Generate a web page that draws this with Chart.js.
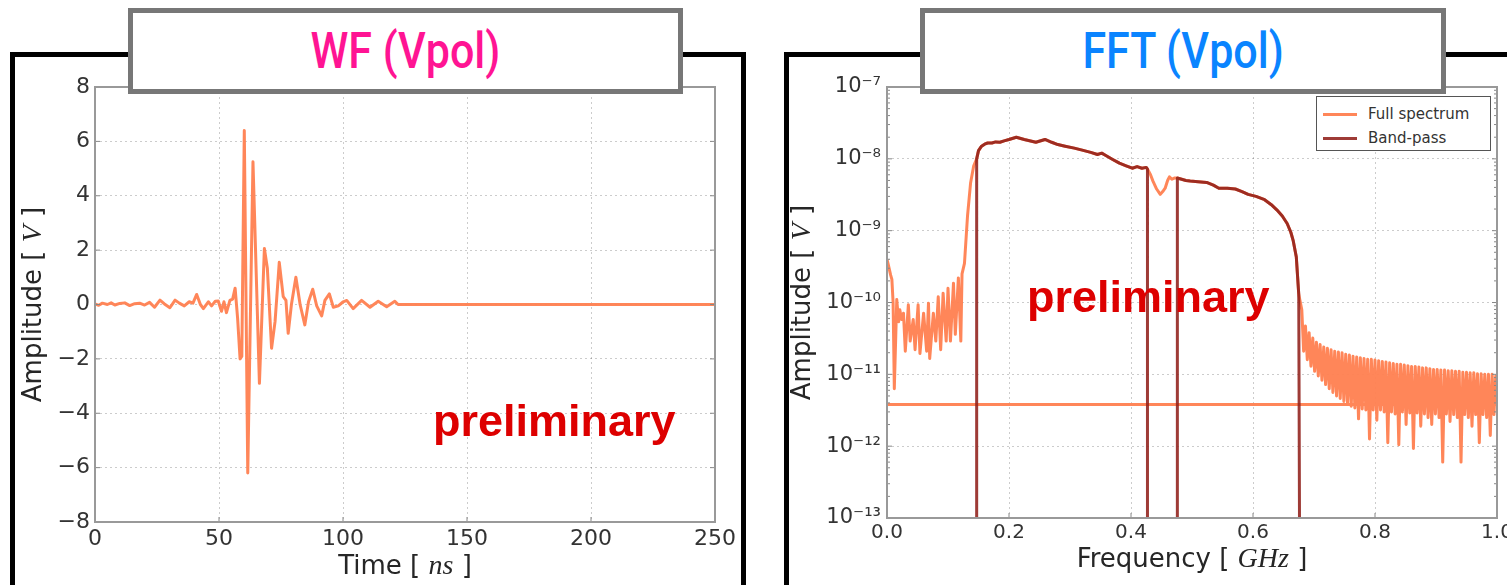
<!DOCTYPE html>
<html>
<head>
<meta charset="utf-8">
<script src="https://cdn.jsdelivr.net/npm/chart.js@4.4.1/dist/chart.umd.min.js"></script>
<style>
  body { margin: 0; width: 1507px; height: 585px; background: #fff; position: relative; overflow: hidden; }
  .frame { position: absolute; border: 5px solid #000; box-sizing: border-box; }
  .tbox { position: absolute; background: #fff; border: 5px solid #777; box-sizing: border-box;
          display: flex; align-items: center; justify-content: center;
          font-family: "Roboto", sans-serif; font-weight: 500; font-size: 50px; }
  .tbox span { display: inline-block; transform: scaleX(0.86); }
  .prelim { position: absolute; color: #dd0000; font: bold 45px "Liberation Sans", Arial, sans-serif; line-height: 1; }
  canvas { position: absolute; }
  #legend { position: absolute; left: 1316px; top: 96px; width: 175px; height: 55px; box-sizing: border-box;
            border: 1px solid #555; background: #fff; font: 15px "DejaVu Sans", sans-serif; color: #333; padding-top: 5px; }
  #legend .li { height: 24px; display: flex; align-items: center; }
  #legend .sw { display: inline-block; width: 34px; height: 3px; margin: 0 11px 0 6px; }
</style>
</head>
<body>
<div class="frame" style="left:10px;top:52px;width:736px;height:560px"></div>
<div class="frame" style="left:784px;top:52px;width:760px;height:560px"></div>
<canvas id="wf" width="726" height="528" style="left:15px;top:57px"></canvas>
<canvas id="fft" width="718" height="528" style="left:789px;top:57px"></canvas>
<div class="tbox" style="left:128px;top:8px;width:555px;height:86px;color:#ff1493"><span>WF (Vpol)</span></div>
<div class="tbox" style="left:920px;top:8px;width:526px;height:86px;color:#0a84ff"><span>FFT (Vpol)</span></div>
<div class="prelim" style="left:433px;top:398px">preliminary</div>
<div class="prelim" style="left:1027px;top:274px">preliminary</div>
<div id="legend"></div>
<script>
// waveform, time in ns, amplitude in V
const wfTime = [0, 1.5, 3, 5, 6.5, 8, 10, 12, 14, 16, 18, 20, 22, 24, 26.2, 28, 30.2, 32.3, 34, 36,
  38, 39.5, 41, 42.5, 43.7, 45.7, 47, 48.5, 49.7, 51, 52, 53, 54.4, 55.5, 56.5, 57.5, 58.5, 59.2, 60.2, 61.6,
  63.7, 66.3, 68.3, 69.5, 71.2, 72.6, 74.3, 75.9, 77, 77.9, 79.2, 81, 82.7, 84.6, 86.1, 87.8, 89.4, 91.4, 92.7, 94.5,
  96.1, 98.1, 100.1, 101.5, 104.1, 107.5, 110.9, 114.2, 117.6, 120.9, 122.2, 250];
const wfVolt = [0.02, -0.03, 0.05, 0, 0.06, -0.02, 0.04, 0.06, -0.04, 0.03, 0.05, -0.02, 0.08, -0.1, 0.16, 0.02, -0.12, 0.16, 0.05, -0.05,
  0.1, 0.05, 0.37, 0, -0.15, 0.1, -0.05, 0.12, 0.13, -0.25, 0.1, -0.3, 0.15, 0.2, 0.6, -0.5, -2.0, -1.9, 6.4, -6.2,
  5.25, -2.9, 2.06, 1.33, -1.61, -0.63, 1.55, 0.29, 0.15, -1.06, 0, 1.0, 0, -0.75, 0.1, 0.56, -0.05, -0.42, 0.15, 0.39,
  -0.1, -0.05, 0.1, 0.15, -0.15, 0.15, -0.1, 0.12, -0.08, 0.12, 0, 0];
const wfXTicks = [0, 50, 100, 150, 200, 250];
const wfYTicks = [-8, -6, -4, -2, 0, 2, 4, 6, 8];

// spectrum, frequency in GHz, amplitude in V
const lowFreq = [0.000, 0.002, 0.006, 0.008, 0.010, 0.012, 0.016, 0.019, 0.021, 0.024, 0.027, 0.030, 0.035, 0.038, 0.043,
  0.046, 0.051, 0.054, 0.060, 0.065, 0.068, 0.070, 0.076, 0.080, 0.084, 0.088, 0.092, 0.097, 0.100, 0.104, 0.109,
  0.112, 0.117, 0.121, 0.123, 0.127, 0.132, 0.137, 0.142];
const lowAmp = [4.0e-10, 3.4e-10, 2.4e-10, 2.1e-10, 1.0e-10, 6.3e-12, 1.1e-10, 5.4e-11, 7.9e-11, 5.8e-11, 7.1e-11, 2.1e-11, 9.3e-11, 2.9e-11, 5.8e-11,
  2.2e-11, 9.3e-11, 1.95e-11, 7.1e-11, 2.1e-11, 9.8e-11, 1.66e-11, 7.1e-11, 2.9e-11, 1.2e-10, 2.2e-11, 1.35e-10, 2.9e-11, 1.58e-10, 2.9e-11, 1.86e-10,
  3.6e-11, 2.2e-10, 2.9e-11, 2.5e-10, 3.5e-10, 1.6e-9, 4.6e-9, 7.9e-9];
const band1Freq = [0.147, 0.150, 0.155, 0.160, 0.165, 0.172, 0.178, 0.185, 0.192, 0.200, 0.212, 0.225, 0.244, 0.259, 0.270,
  0.280, 0.292, 0.307, 0.320, 0.334, 0.345, 0.352, 0.358, 0.370, 0.381, 0.392, 0.402, 0.410, 0.418, 0.425, 0.427];
const band1Amp = [1.0e-8, 1.3e-8, 1.5e-8, 1.6e-8, 1.66e-8, 1.66e-8, 1.72e-8, 1.7e-8, 1.78e-8, 1.86e-8, 2.0e-8, 1.86e-8, 1.7e-8, 1.86e-8, 1.7e-8,
  1.58e-8, 1.5e-8, 1.41e-8, 1.32e-8, 1.23e-8, 1.15e-8, 1.2e-8, 1.12e-8, 9.8e-9, 8.7e-9, 8.0e-9, 7.4e-9, 7.8e-9, 7.4e-9, 7.6e-9, 7.2e-9];
const notchFreq = [0.432, 0.436, 0.442, 0.448, 0.452, 0.456, 0.460, 0.463, 0.467, 0.471];
const notchAmp = [6.0e-9, 4.9e-9, 3.8e-9, 3.2e-9, 3.5e-9, 3.9e-9, 5.0e-9, 5.6e-9, 5.2e-9, 5.4e-9];
const band2Freq = [0.476, 0.483, 0.490, 0.497, 0.510, 0.524, 0.535, 0.544, 0.558, 0.571, 0.582, 0.592, 0.605, 0.619, 0.630,
  0.639, 0.648, 0.656, 0.662, 0.666, 0.671, 0.675];
const band2Amp = [5.4e-9, 5.2e-9, 5.0e-9, 4.9e-9, 4.8e-9, 4.7e-9, 4.3e-9, 3.9e-9, 3.9e-9, 3.8e-9, 3.5e-9, 3.2e-9, 3.0e-9, 2.7e-9, 2.3e-9,
  1.95e-9, 1.6e-9, 1.26e-9, 9.5e-10, 7.2e-10, 4.3e-10, 1.3e-10];
const tailFreq = [
  0.680, 0.683, 0.686, 0.689, 0.692, 0.695, 0.698, 0.701, 0.704, 0.707, 0.710, 0.713, 0.716, 0.719, 0.722, 0.725, 0.728, 0.731,
  0.734, 0.737, 0.740, 0.743, 0.746, 0.749, 0.752, 0.755, 0.758, 0.761, 0.764, 0.767, 0.770, 0.773, 0.776, 0.779, 0.782, 0.785,
  0.788, 0.791, 0.794, 0.797, 0.800, 0.803, 0.806, 0.809, 0.812, 0.815, 0.818, 0.821, 0.824, 0.827, 0.830, 0.833, 0.836, 0.839,
  0.842, 0.845, 0.848, 0.851, 0.854, 0.857, 0.860, 0.863, 0.866, 0.869, 0.872, 0.875, 0.878, 0.881, 0.884, 0.887, 0.890, 0.893,
  0.896, 0.899, 0.902, 0.905, 0.908, 0.911, 0.914, 0.917, 0.920, 0.923, 0.926, 0.929, 0.932, 0.935, 0.938, 0.941, 0.944, 0.947,
  0.950, 0.953, 0.956, 0.959, 0.962, 0.965, 0.968, 0.971, 0.974, 0.977, 0.980, 0.983, 0.986, 0.989, 0.992, 0.995, 0.998];
const tailAmp = [
  7.9e-11, 2.1e-11, 4.7e-11, 1.6e-11, 3.8e-11, 1.3e-11, 3.2e-11, 1.1e-11, 2.8e-11, 9.5e-12, 2.6e-11, 8.3e-12, 2.4e-11, 7.2e-12, 2.3e-11, 6.3e-12, 2.2e-11, 5.6e-12,
  2.1e-11, 5.0e-12, 2.05e-11, 4.6e-12, 2.0e-11, 4.2e-12, 1.9e-11, 3.9e-12, 1.86e-11, 3.6e-12, 1.78e-11, 3.4e-12, 1.74e-11, 2.4e-12, 1.7e-11, 3.3e-12, 1.66e-11, 3.2e-12,
  1.62e-11, 1.26e-12, 1.62e-11, 3.2e-12, 1.58e-11, 2.3e-12, 1.55e-11, 3.2e-12, 1.51e-11, 3.0e-12, 1.48e-11, 1.12e-12, 1.45e-11, 3.0e-12, 1.41e-11, 2.8e-12, 1.38e-11, 1.05e-12,
  1.38e-11, 3.0e-12, 1.35e-11, 2.0e-12, 1.32e-11, 2.9e-12, 1.29e-11, 9.3e-13, 1.29e-11, 2.9e-12, 1.26e-11, 1.9e-12, 1.23e-11, 2.8e-12, 1.23e-11, 2.5e-12, 1.2e-11, 2.0e-12,
  1.17e-11, 2.8e-12, 1.17e-11, 2.5e-12, 1.15e-11, 6.0e-13, 1.15e-11, 2.8e-12, 1.12e-11, 2.2e-12, 1.12e-11, 2.75e-12, 1.1e-11, 2.5e-12, 1.1e-11, 6.0e-13, 1.07e-11, 2.75e-12,
  1.07e-11, 2.5e-12, 1.05e-11, 1.9e-12, 1.05e-11, 2.75e-12, 1.02e-11, 1.12e-12, 1.02e-11, 2.75e-12, 1.0e-11, 2.5e-12, 1.0e-11, 1.41e-12, 1.0e-11, 2.75e-12, 9.5e-12];
// the full-spectrum line jumps back to the start at the end
const wrapFreq = [1.0, 0.0];
const wrapAmp = [3.8e-12, 3.8e-12];
const bandFloor = 1e-15;   // band-pass is zero outside the bands
const fftXTicks = [0, 0.2, 0.4, 0.6, 0.8, 1.0];
const fftDecades = [-13, -12, -11, -10, -9, -8, -7];
const seriesNames = ['Full spectrum', 'Band-pass'];
const seriesColors = ['rgba(255,127,80,0.95)', 'rgba(145,32,26,0.88)'];

const pts = (xs, ys) => xs.map((x, i) => ({x: x, y: ys[i]}));
const fullPts = [].concat(pts(lowFreq, lowAmp), pts(band1Freq, band1Amp), pts(notchFreq, notchAmp),
  pts(band2Freq, band2Amp), pts(tailFreq, tailAmp), pts(wrapFreq, wrapAmp));
const bandPts = [].concat([{x: band1Freq[0], y: bandFloor}], pts(band1Freq, band1Amp),
  [{x: band1Freq[band1Freq.length - 1], y: bandFloor}, {x: band2Freq[0], y: bandFloor}],
  pts(band2Freq, band2Amp), [{x: 0.677, y: bandFloor}]);

const SUP = {'-': '\u207b', '0': '\u2070', '1': '\u00b9', '2': '\u00b2', '3': '\u00b3', '4': '\u2074',
  '5': '\u2075', '6': '\u2076', '7': '\u2077', '8': '\u2078', '9': '\u2079'};
const sup = s => String(s).split('').map(c => SUP[c]).join('');

function drawParts(ctx, parts, cx, cy, rot, size) {
  const fonts = parts.map(p => p[1] ? 'italic ' + (size + 2) + 'px "Liberation Serif", serif' : size + 'px "DejaVu Sans", sans-serif');
  let total = 0;
  const w = parts.map((p, i) => { ctx.font = fonts[i]; const m = ctx.measureText(p[0]).width; total += m; return m; });
  ctx.save();
  ctx.translate(cx, cy);
  ctx.rotate(rot);
  ctx.textBaseline = 'middle';
  ctx.textAlign = 'left';
  ctx.fillStyle = '#262626';
  let x = -total / 2;
  parts.forEach((p, i) => { ctx.font = fonts[i]; ctx.fillText(p[0], x, 0); x += w[i]; });
  ctx.restore();
}

const decor = {
  id: 'decor',
  afterDraw(chart, args, o) {
    const {ctx, chartArea: a, scales: {x, y}} = chart;
    ctx.save();
    ctx.strokeStyle = '#888';
    ctx.lineWidth = 1;
    const mark = (px, py, dx, dy) => { ctx.beginPath(); ctx.moveTo(px, py); ctx.lineTo(px + dx, py + dy); ctx.stroke(); };
    x.ticks.forEach(t => { const px = x.getPixelForValue(t.value); mark(px, a.bottom, 0, -5); mark(px, a.top, 0, 5); });
    y.ticks.forEach(t => { const py = y.getPixelForValue(t.value); mark(a.left, py, 5, 0); mark(a.right, py, -5, 0); });
    if (o.logMinor) {
      for (let e = -13; e < -7; e++) {
        for (let k = 2; k < 10; k++) {
          const py = y.getPixelForValue(k * Math.pow(10, e));
          mark(a.left, py, 3, 0); mark(a.right, py, -3, 0);
        }
      }
    }
    ctx.strokeStyle = '#999';
    ctx.lineWidth = 2;
    ctx.strokeRect(a.left, a.top, a.right - a.left, a.bottom - a.top);
    ctx.restore();
    drawParts(ctx, o.xTitle, (a.left + a.right) / 2, o.xTitleY, 0, o.size);
    drawParts(ctx, o.yTitle, o.yTitleX, (a.top + a.bottom) / 2, -Math.PI / 2, o.size);
  }
};

const gridOpts = {color: 'rgba(0,0,0,0.2)', lineWidth: 1, drawTicks: false};
const borderOpts = {display: false, dash: [2, 3]};

new Chart(document.getElementById('wf'), {
  type: 'line',
  data: {
    datasets: [{
      data: pts(wfTime, wfVolt),
      borderColor: 'rgba(255,127,80,0.95)',
      borderWidth: 3,
      pointRadius: 0,
      tension: 0,
      borderJoinStyle: 'round',
      borderCapStyle: 'round'
    }]
  },
  options: {
    responsive: false,
    animation: false,
    layout: {padding: {left: 0, right: 26, top: 30, bottom: 0}},
    plugins: {
      legend: {display: false},
      tooltip: {enabled: false},
      decor: {
        xTitle: [['Time [ ', false], ['ns', true], [' ]', false]], xTitleY: 510,
        yTitle: [['Amplitude [ ', false], ['V', true], [' ]', false]], yTitleX: 19,
        size: 26
      }
    },
    scales: {
      x: {
        type: 'linear', min: 0, max: 250,
        afterBuildTicks: s => { s.ticks = wfXTicks.map(v => ({value: v})); },
        afterFit: s => { s.height = 63; s.paddingLeft = 0; s.paddingRight = 0; },
        grid: gridOpts, border: borderOpts,
        ticks: {color: '#333', padding: 4, maxRotation: 0, font: {family: 'DejaVu Sans', size: 22}}
      },
      y: {
        type: 'linear', min: -8, max: 8,
        afterBuildTicks: s => { s.ticks = wfYTicks.map(v => ({value: v})); },
        afterFit: s => { s.width = 80; s.paddingTop = 0; s.paddingBottom = 0; },
        grid: gridOpts, border: borderOpts,
        ticks: {color: '#333', padding: 5, font: {family: 'DejaVu Sans', size: 22},
          callback: v => v < 0 ? '\u2212' + (-v) : String(v)}
      }
    }
  },
  plugins: [decor]
});

new Chart(document.getElementById('fft'), {
  type: 'line',
  data: {
    datasets: [
      {label: seriesNames[0], data: fullPts, borderColor: seriesColors[0], borderWidth: 3, pointRadius: 0,
       tension: 0, order: 2, borderJoinStyle: 'round'},
      {label: seriesNames[1], data: bandPts, borderColor: seriesColors[1], borderWidth: 3, pointRadius: 0,
       tension: 0, order: 1, borderJoinStyle: 'round'}
    ]
  },
  options: {
    responsive: false,
    animation: false,
    layout: {padding: {left: 0, right: 10, top: 30, bottom: 0}},
    plugins: {
      legend: {display: false},
      tooltip: {enabled: false},
      decor: {
        xTitle: [['Frequency [ ', false], ['GHz', true], [' ]', false]], xTitleY: 503,
        yTitle: [['Amplitude [ ', false], ['V', true], [' ]', false]], yTitleX: 14,
        size: 26, logMinor: true
      }
    },
    scales: {
      x: {
        type: 'linear', min: 0, max: 1,
        afterBuildTicks: s => { s.ticks = fftXTicks.map(v => ({value: v})); },
        afterFit: s => { s.height = 67; s.paddingLeft = 0; s.paddingRight = 0; },
        grid: gridOpts, border: borderOpts,
        ticks: {color: '#333', padding: 3, maxRotation: 0, font: {family: 'DejaVu Sans', size: 20},
          callback: v => v.toFixed(1)}
      },
      y: {
        type: 'logarithmic', min: 1e-13, max: 1e-7,
        afterBuildTicks: s => { s.ticks = fftDecades.map(e => ({value: Math.pow(10, e)})); },
        afterFit: s => { s.width = 98; s.paddingTop = 0; s.paddingBottom = 0; },
        grid: gridOpts, border: borderOpts,
        ticks: {color: '#333', padding: 6, font: {family: 'DejaVu Sans', size: 21},
          callback: v => '10' + sup(Math.round(Math.log10(v)))}
      }
    }
  },
  plugins: [decor]
});

// legend box (top right of the spectrum plot)
document.getElementById('legend').innerHTML = seriesNames.map((n, i) =>
  '<div class="li"><span class="sw" style="background:' + seriesColors[i] + '"></span>' + n + '</div>').join('');
</script>
</body>
</html>
